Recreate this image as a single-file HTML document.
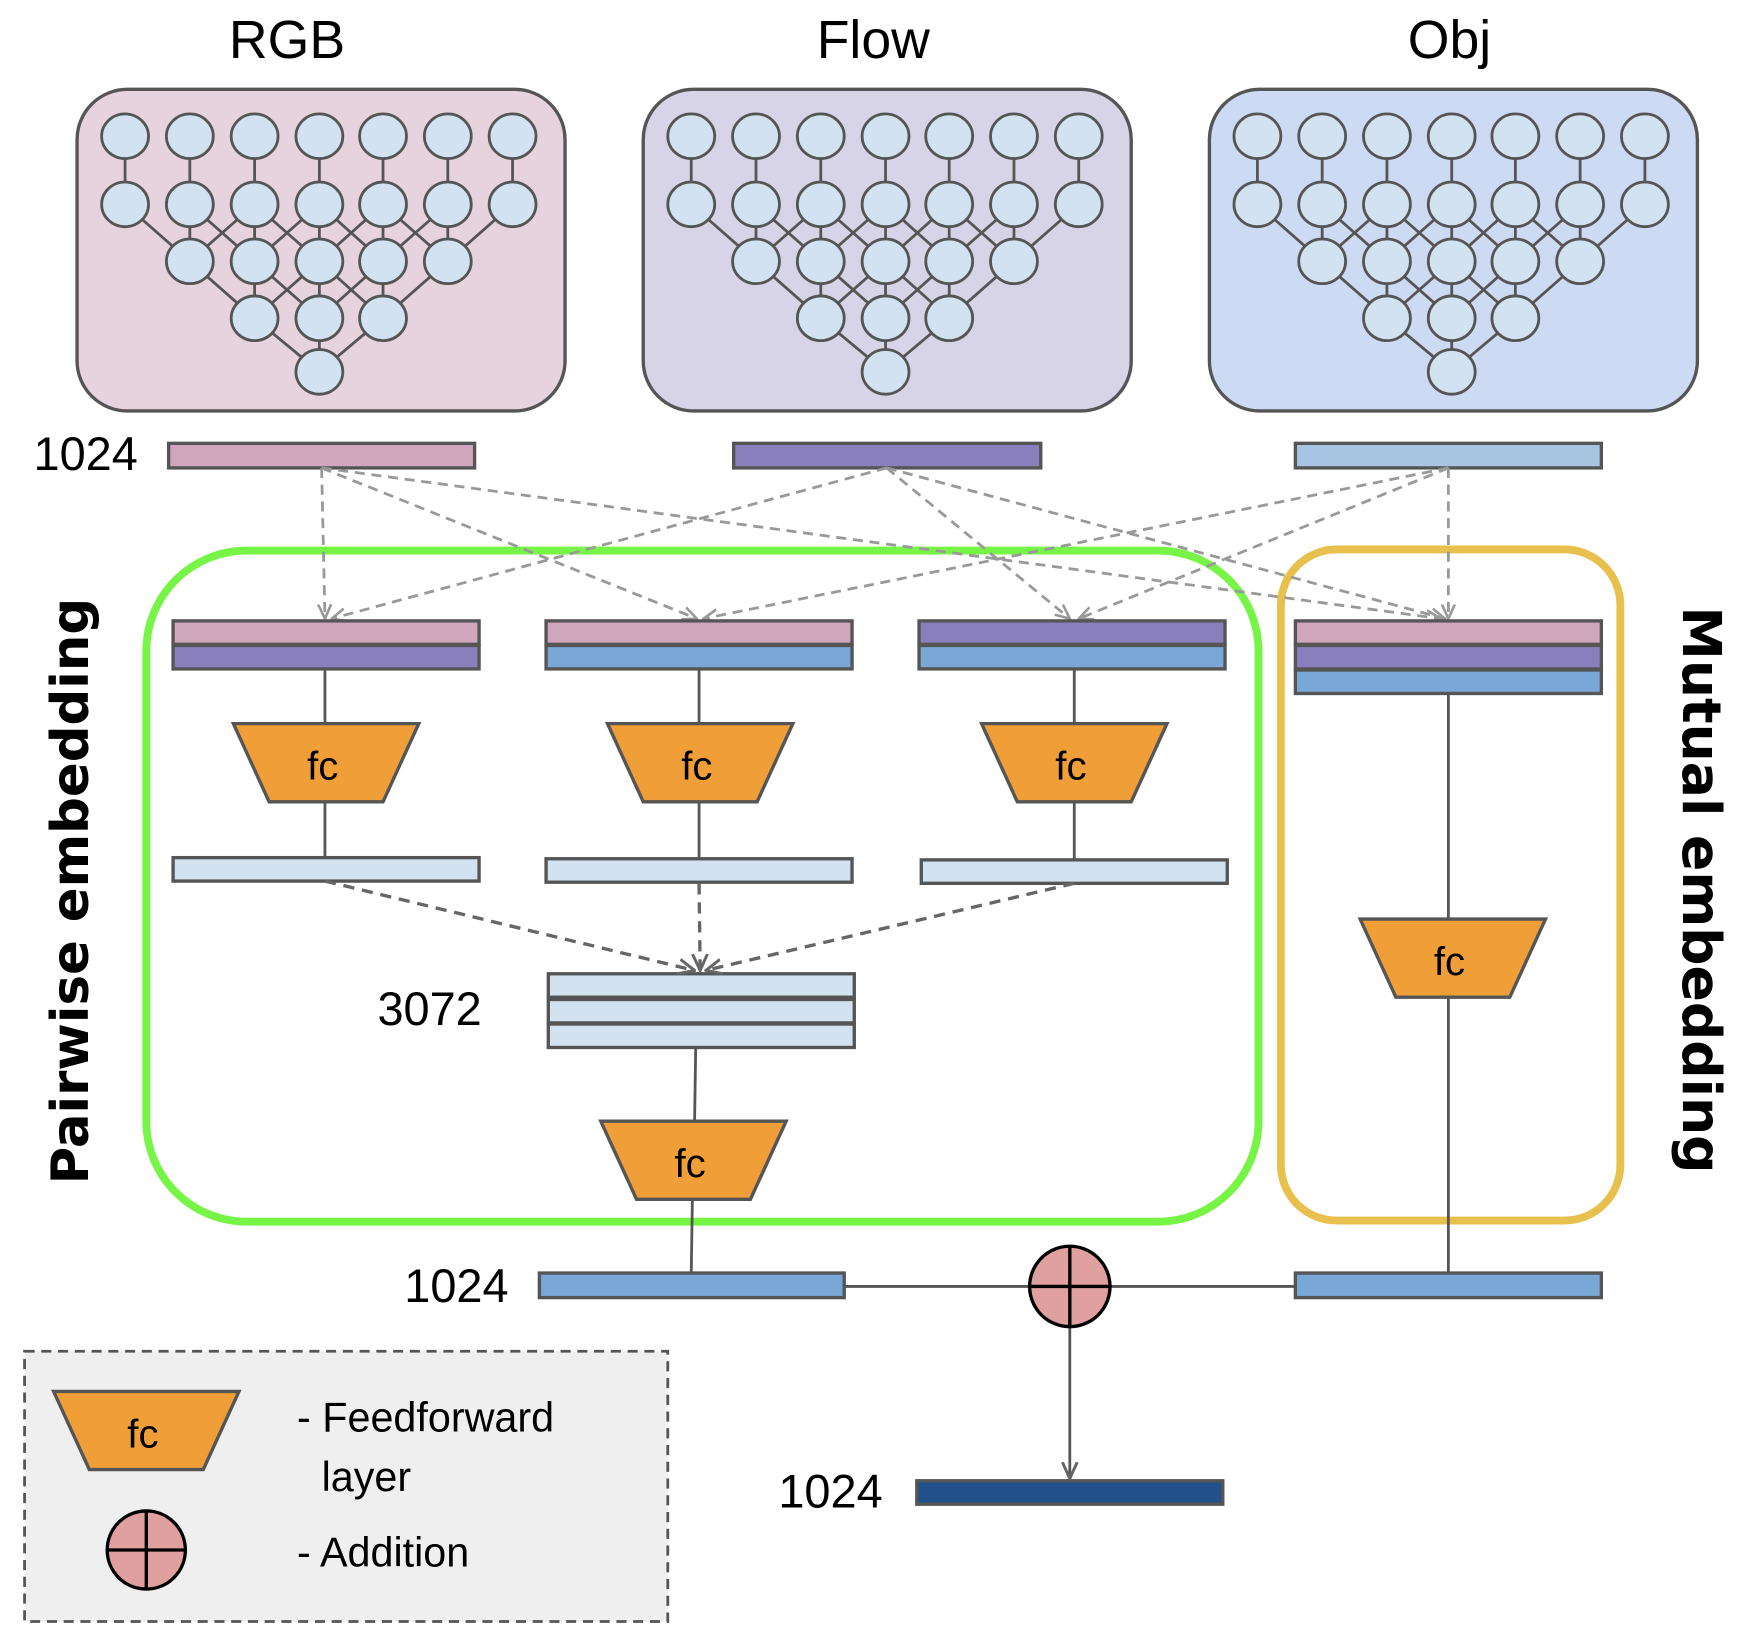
<!DOCTYPE html>
<html><head><meta charset="utf-8"><style>
html,body{margin:0;padding:0;background:#fff}
svg{display:block}
text{font-family:"Liberation Sans",sans-serif;fill:#000}
</style></head><body>
<svg width="1751" height="1638" viewBox="0 0 1568 1466.8" xmlns="http://www.w3.org/2000/svg">
<defs>
<marker id="ag" viewBox="0 0 12 12" refX="11" refY="6" markerWidth="14" markerHeight="14" markerUnits="userSpaceOnUse" orient="auto"><path d="M0,1 L11,6 L0,11" fill="none" stroke="#999" stroke-width="2"/></marker>
<marker id="ad" viewBox="0 0 12 12" refX="11" refY="6" markerWidth="16" markerHeight="16" markerUnits="userSpaceOnUse" orient="auto"><path d="M0,1 L11,6 L0,11" fill="none" stroke="#666" stroke-width="2"/></marker>
<g id="net" stroke="#555" stroke-width="2.5">
<g fill="none">
<path d="M112,122V183M170,122V183M228,122V183M286,122V183M343,122V183M401,122V183M459,122V183"/>
<path d="M112,183L170,234M170,183L170,234M228,183L170,234M170,183L228,234M228,183L228,234M286,183L228,234M228,183L286,234M286,183L286,234M343,183L286,234M286,183L343,234M343,183L343,234M401,183L343,234M343,183L401,234M401,183L401,234M459,183L401,234"/>
<path d="M170,234L228,285M228,234L228,285M286,234L228,285M228,234L286,285M286,234L286,285M343,234L286,285M286,234L343,285M343,234L343,285M401,234L343,285"/>
<path d="M228,285L286,333M286,285L286,333M343,285L286,333"/>
</g>
<g fill="#d2e2f0">
<ellipse cx="112" cy="122" rx="21" ry="20"/><ellipse cx="170" cy="122" rx="21" ry="20"/><ellipse cx="228" cy="122" rx="21" ry="20"/><ellipse cx="286" cy="122" rx="21" ry="20"/><ellipse cx="343" cy="122" rx="21" ry="20"/><ellipse cx="401" cy="122" rx="21" ry="20"/><ellipse cx="459" cy="122" rx="21" ry="20"/>
<ellipse cx="112" cy="183" rx="21" ry="20"/><ellipse cx="170" cy="183" rx="21" ry="20"/><ellipse cx="228" cy="183" rx="21" ry="20"/><ellipse cx="286" cy="183" rx="21" ry="20"/><ellipse cx="343" cy="183" rx="21" ry="20"/><ellipse cx="401" cy="183" rx="21" ry="20"/><ellipse cx="459" cy="183" rx="21" ry="20"/>
<ellipse cx="170" cy="234" rx="21" ry="20"/><ellipse cx="228" cy="234" rx="21" ry="20"/><ellipse cx="286" cy="234" rx="21" ry="20"/><ellipse cx="343" cy="234" rx="21" ry="20"/><ellipse cx="401" cy="234" rx="21" ry="20"/>
<ellipse cx="228" cy="285" rx="21" ry="20"/><ellipse cx="286" cy="285" rx="21" ry="20"/><ellipse cx="343" cy="285" rx="21" ry="20"/>
<ellipse cx="286" cy="333" rx="21" ry="20"/>
</g>
</g>
<g id="fc"><path d="M0,0H166L134,70H32Z" fill="#f09f38" stroke="#555" stroke-width="3"/><text x="80" y="50" font-size="36" text-anchor="middle">fc</text></g>
</defs>

<text x="257" y="52" font-size="48" text-anchor="middle">RGB</text>
<text x="782" y="52" font-size="48" text-anchor="middle">Flow</text>
<text x="1298" y="52" font-size="48" text-anchor="middle">Obj</text>

<rect x="69" y="80" width="437" height="288" rx="45" fill="#e6d3de" stroke="#555" stroke-width="3"/>
<rect x="576" y="80" width="437" height="288" rx="45" fill="#d8d4e8" stroke="#555" stroke-width="3"/>
<rect x="1083" y="80" width="437" height="288" rx="45" fill="#cddaf3" stroke="#555" stroke-width="3"/>
<use href="#net"/>
<use href="#net" x="507"/>
<use href="#net" x="1014"/>

<g stroke="#555" stroke-width="3">
<rect x="151" y="397" width="274" height="22" fill="#cfa6bb"/>
<rect x="657" y="397" width="275" height="22" fill="#8a7fbd"/>
<rect x="1160" y="397" width="274" height="22" fill="#a7c5e2"/>
</g>
<text x="30" y="421" font-size="42">1024</text>

<rect x="131" y="493" width="996" height="601" rx="90" fill="none" stroke="#77f546" stroke-width="7"/>
<rect x="1147" y="492" width="304" height="601" rx="50" fill="none" stroke="#e8c04d" stroke-width="7"/>

<g stroke="#999" stroke-width="2.5" stroke-dasharray="9,6" fill="none" marker-end="url(#ag)">
<path d="M288,419L291,554"/><path d="M288,419L624,554"/><path d="M288,419L1290,554"/>
<path d="M794,419L297,554"/><path d="M794,419L958,554"/><path d="M794,419L1294,554"/>
<path d="M1297,419L630,554"/><path d="M1297,419L966,554"/><path d="M1297,419L1297,554"/>
</g>

<g stroke="#555" stroke-width="3">
<rect x="155" y="556" width="274" height="21" fill="#cfa6bb"/><rect x="155" y="578" width="274" height="21" fill="#8a7fbd"/>
<rect x="489" y="556" width="274" height="21" fill="#cfa6bb"/><rect x="489" y="578" width="274" height="21" fill="#79a7d6"/>
<rect x="823" y="556" width="274" height="21" fill="#8a7fbd"/><rect x="823" y="578" width="274" height="21" fill="#79a7d6"/>
<rect x="1160" y="556" width="274" height="21" fill="#cfa6bb"/><rect x="1160" y="578" width="274" height="21" fill="#8a7fbd"/><rect x="1160" y="600" width="274" height="21" fill="#79a7d6"/>
</g>

<g stroke="#555" stroke-width="2.5">
<path d="M291,599V648M626,599V648M962,599V648"/>
<path d="M291,718V768M626,718V768M962,718V770"/>
<path d="M623,938L622,1004M620,1075L619,1140"/>
<path d="M1297,621V823M1297,893V1140"/>
<path d="M756,1152H922M994,1152H1160"/>
</g>
<use href="#fc" x="209" y="648"/>
<use href="#fc" x="544" y="648"/>
<use href="#fc" x="879" y="648"/>
<use href="#fc" x="1218" y="823"/>
<use href="#fc" x="538" y="1004"/>

<g stroke="#555" stroke-width="3" fill="#d2e2f0">
<rect x="155" y="768" width="274" height="21"/>
<rect x="489" y="769" width="274" height="21"/>
<rect x="825" y="770" width="274" height="21"/>
<rect x="491" y="872" width="274" height="21"/><rect x="491" y="895" width="274" height="21"/><rect x="491" y="917" width="274" height="21"/>
</g>

<g stroke="#666" stroke-width="3" stroke-dasharray="10,7" fill="none" marker-end="url(#ad)">
<path d="M291,789L622,869"/><path d="M626,791L627,869"/><path d="M962,791L632,869"/>
</g>
<text x="338" y="918" font-size="42">3072</text>

<g stroke="#555" stroke-width="3">
<rect x="483" y="1140" width="273" height="22" fill="#79a7d6"/>
<rect x="1160" y="1140" width="274" height="22" fill="#79a7d6"/>
<rect x="821" y="1326" width="274" height="21" fill="#22508a"/>
</g>
<text x="362" y="1166" font-size="42">1024</text>
<text x="697" y="1350" font-size="42">1024</text>

<path d="M958,1188V1324" stroke="#555" stroke-width="2.5" marker-end="url(#ad)"/>
<g stroke="#000" stroke-width="3">
<circle cx="958" cy="1152" r="36" fill="#e0a0a0"/>
<path d="M922,1152H994M958,1116V1188"/>
</g>

<text transform="translate(79,798) rotate(-90)" font-size="46" font-weight="bold" text-anchor="middle" style="font-family:'DejaVu Sans',sans-serif">Pairwise embedding</text>
<text transform="translate(1507,797) rotate(90)" font-size="48" font-weight="bold" text-anchor="middle" style="font-family:'DejaVu Sans',sans-serif">Mutual embedding</text>

<rect x="22" y="1210" width="576" height="242" fill="#efefef" stroke="#555" stroke-width="2.5" stroke-dasharray="9,6"/>
<use href="#fc" x="48" y="1246"/>
<g stroke="#000" stroke-width="3">
<circle cx="131" cy="1388" r="35" fill="#e0a0a0"/>
<path d="M96,1388H166M131,1353V1423"/>
</g>
<text x="266" y="1282" font-size="37">- Feedforward</text>
<text x="288" y="1335" font-size="37">layer</text>
<text x="266" y="1403" font-size="37">- Addition</text>
</svg>
</body></html>
